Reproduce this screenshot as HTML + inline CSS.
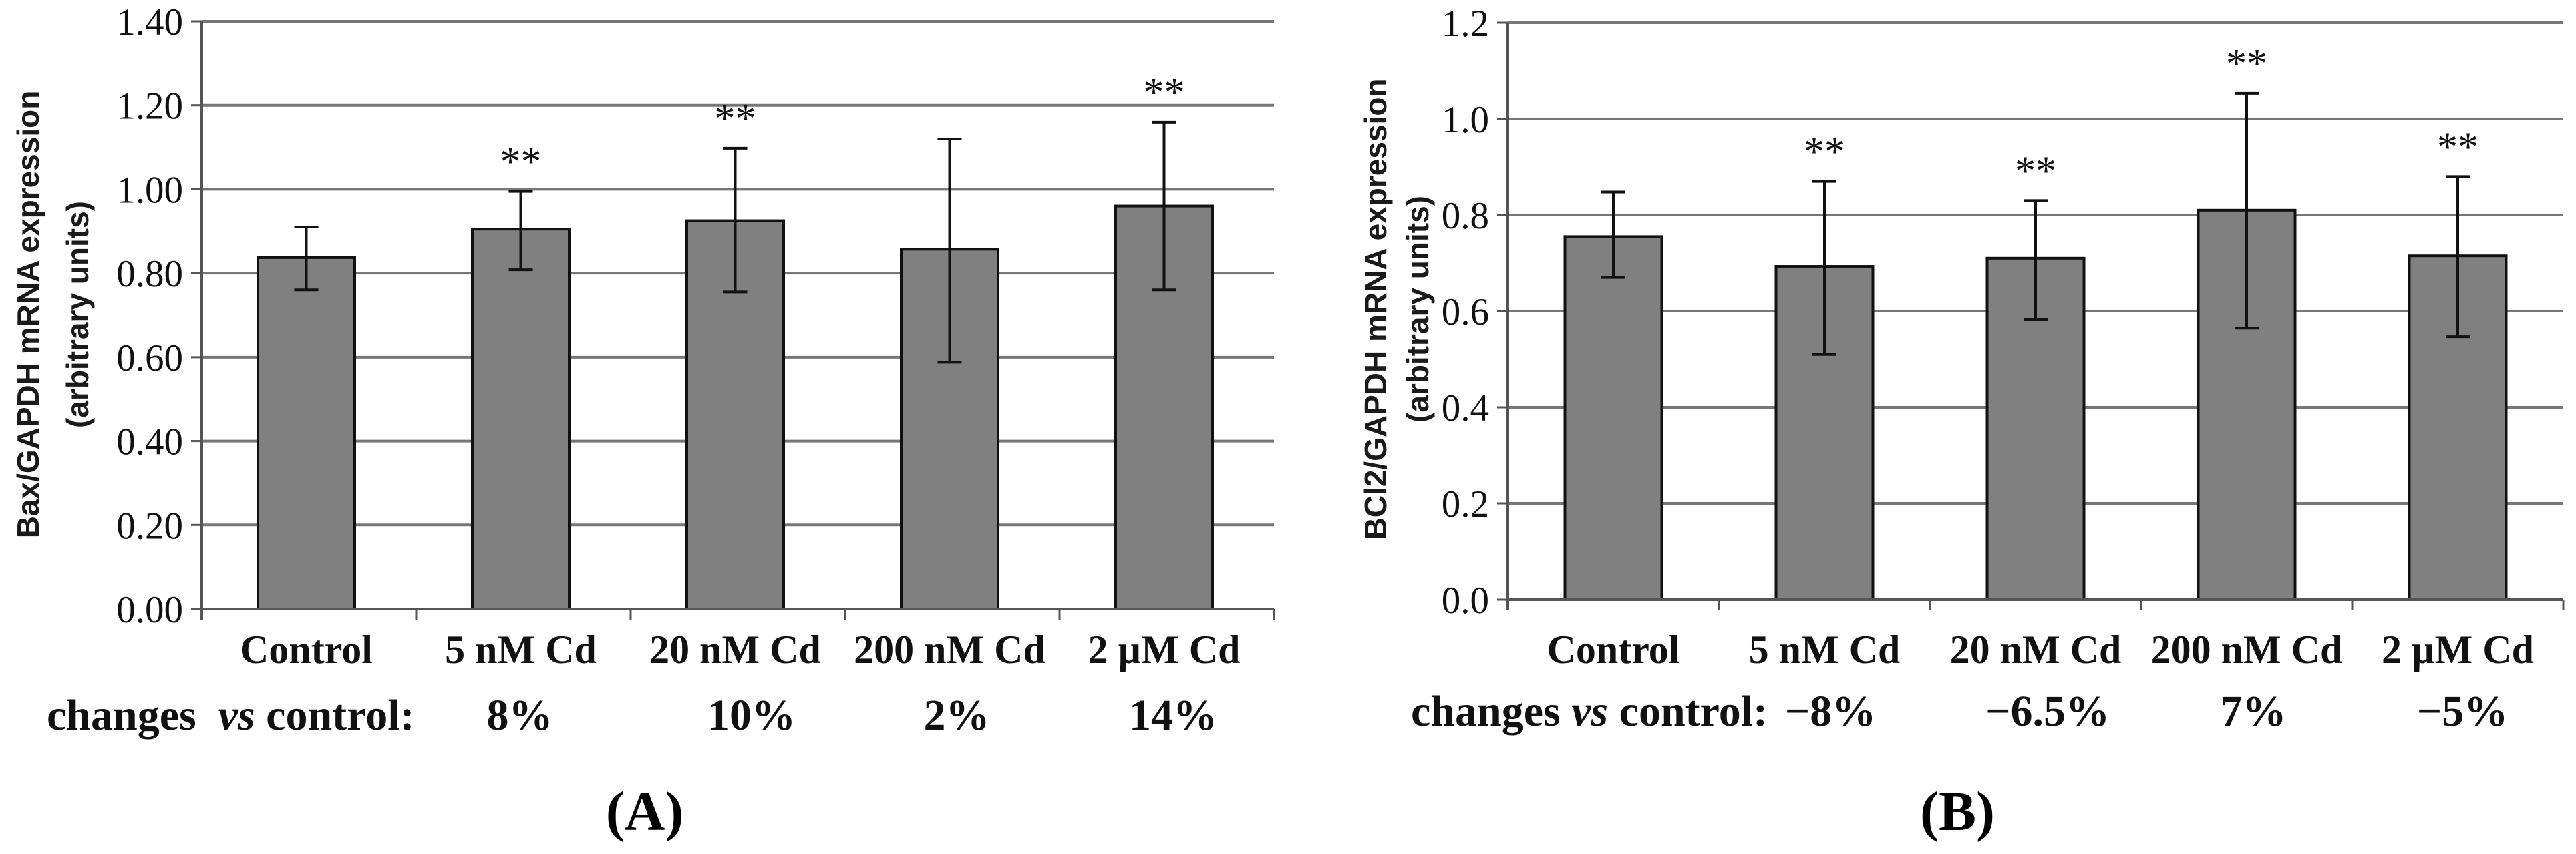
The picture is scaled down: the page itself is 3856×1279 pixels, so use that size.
<!DOCTYPE html>
<html><head><meta charset="utf-8"><style>
html,body{margin:0;padding:0;background:#fff;}
svg{display:block;}
.tick{font-family:"Liberation Serif",serif;font-size:57px;fill:#111;}
.cat{font-family:"Liberation Serif",serif;font-size:60px;font-weight:bold;fill:#111;}
.chg{font-family:"Liberation Serif",serif;font-size:66px;font-weight:bold;fill:#111;}
.yt{font-family:"Liberation Sans",sans-serif;font-size:46px;font-weight:bold;fill:#1a1a1a;}
.star{font-family:"Liberation Serif",serif;font-size:62px;fill:#111;}
.pl{font-family:"Liberation Serif",serif;font-size:84px;font-weight:bold;fill:#000;}
</style></head><body>
<svg id="chart" width="3856" height="1279" viewBox="0 0 3856 1279" xmlns="http://www.w3.org/2000/svg"></svg>
<script>
const categories = ["Control","5 nM Cd","20 nM Cd","200 nM Cd","2 \u00b5M Cd"];
const baxValues = [0.837, 0.905, 0.925, 0.857, 0.960];
const baxErrHigh = [0.910, 0.995, 1.098, 1.120, 1.160];
const baxErrLow = [0.760, 0.808, 0.755, 0.588, 0.760];
const baxStars = [false, true, true, false, true];
const baxTicks = ["0.00","0.20","0.40","0.60","0.80","1.00","1.20","1.40"];
const baxChanges = ["8%","10%","2%","14%"];
const bclValues = [0.755, 0.693, 0.710, 0.810, 0.715];
const bclErrHigh = [0.848, 0.870, 0.830, 1.053, 0.880];
const bclErrLow = [0.670, 0.510, 0.583, 0.565, 0.547];
const bclStars = [false, true, true, true, true];
const bclTicks = ["0.0","0.2","0.4","0.6","0.8","1.0","1.2"];
const bclChanges = ["\u22128%","\u22126.5%","7%","\u22125%"];

const svg = document.getElementById('chart');
const NS = "http://www.w3.org/2000/svg";
function mk(tag, attrs, parent){const e=document.createElementNS(NS,tag);for(const k in attrs)e.setAttribute(k,attrs[k]);(parent||svg).appendChild(e);return e;}

function drawPanel(o){
  const g = mk('g',{});
  
  
  const y = v => o.y0 - (v/o.ymax)*(o.y0-o.ytop);
  const cw = (o.x1-o.x0)/o.cats.length;
  const cx = i => o.x0 + cw*(i+0.5) + o.shift;
  o.ticks.forEach((t,i)=>{
    const v = i*o.step; const yy=y(v);
    if(i>0){
      const gl = mk('line',{x1:o.x0,x2:o.x1,y1:yy,y2:yy,stroke:'#777','stroke-width':4},g);
      
      
    }
    const tk = mk('line',{x1:o.x0-16,x2:o.x0,y1:yy,y2:yy,stroke:'#555','stroke-width':3},g);
    
    
    const tl = mk('text',{x:o.x0-28,y:yy+20,'text-anchor':'end',class:'tick'},g);
    tl.textContent=t;
    
    
  });
  o.vals.forEach((v,i)=>{
    const bw=145;
    const r = mk('rect',{x:cx(i)-bw/2,y:y(v),width:bw,height:o.y0-y(v),fill:'#808080',stroke:'#111','stroke-width':4},g);
    
    
    const eb = mk('path',{d:`M${cx(i)},${y(o.hi[i])}V${y(o.lo[i])}M${cx(i)-18},${y(o.hi[i])}H${cx(i)+18}M${cx(i)-18},${y(o.lo[i])}H${cx(i)+18}`,stroke:'#111','stroke-width':4,fill:'none'},g);
    
    
    if(o.stars[i]){
      const s = mk('text',{x:cx(i),y:y(o.hi[i])-24,'text-anchor':'middle',class:'star'},g);
      s.textContent='**';
      
      
    }
    const cl = mk('text',{x:cx(i),y:993,'text-anchor':'middle',class:'cat'},g);
    cl.textContent=o.cats[i];
    
    
  });
  const ax = mk('path',{d:`M${o.x0},${o.ytop}V${o.y0+16}M${o.x0},${o.y0}H${o.x1}`,stroke:'#555','stroke-width':4,fill:'none'},g);
  
  
  for(let i=1;i<=o.cats.length;i++){
    const xt = mk('line',{x1:o.x0+cw*i,x2:o.x0+cw*i,y1:o.y0,y2:o.y0+16,stroke:'#555','stroke-width':3},g);
    
    
  }
  const yt = mk('text',{transform:`translate(${o.ytx1},${o.ytc}) rotate(-90)`,'text-anchor':'middle',class:'yt'},g);
  yt.textContent=o.ytitle;
  
  
  const yt2 = mk('text',{transform:`translate(${o.ytx2},${o.ytc}) rotate(-90)`,'text-anchor':'middle',class:'yt'},g);
  yt2.textContent='(arbitrary units)';
  
  
  const ch = mk('text',{x:o.chx,y:o.chy,class:'chg'},g);
  ch.innerHTML='changes'+o.gap+'<tspan font-style="italic">vs</tspan> control:';
  
  
  o.changes.forEach((c,i)=>{
    const t = mk('text',{x:o.chpos[i],y:o.chy,'text-anchor':'middle',class:'chg'},g);
    t.textContent=c;
    
    
  });
  const pl = mk('text',{x:o.plx,y:1243,'text-anchor':'middle',class:'pl'},g);
  pl.textContent=o.panel;
  
  
}

drawPanel({name:'panel-a-bax',x0:302,x1:1907,y0:912,ytop:32,ymax:1.4,step:0.2,shift:-4,ticks:baxTicks,cats:categories,
  vals:baxValues,hi:baxErrHigh,lo:baxErrLow,stars:baxStars,ytitle:'Bax/GAPDH mRNA expression',ytx1:58,ytx2:132,ytc:471,
  chx:70,chy:1093,gap:'\u00a0\u00a0',changes:baxChanges,chpos:[778,1125,1432,1756],plx:965,panel:'(A)'});
drawPanel({name:'panel-b-bcl2',x0:2257,x1:3837,y0:898,ytop:34,ymax:1.2,step:0.2,shift:0,ticks:bclTicks,cats:categories,
  vals:bclValues,hi:bclErrHigh,lo:bclErrLow,stars:bclStars,ytitle:'BCl2/GAPDH mRNA expression',ytx1:2075,ytx2:2138,ytc:463,
  chx:2112,chy:1087,gap:' ',changes:bclChanges,chpos:[2740,3065,3373,3686],plx:2930,panel:'(B)'});
</script>
</body></html>
